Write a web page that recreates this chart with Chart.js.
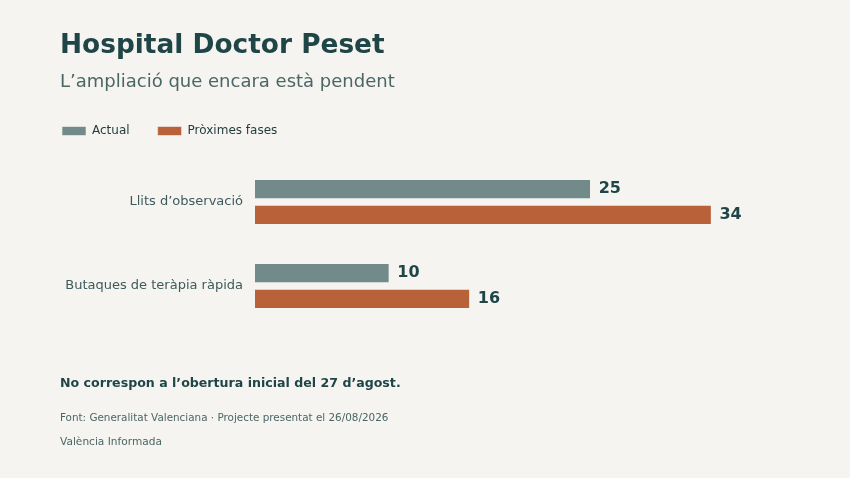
<!DOCTYPE html>
<html>
<head>
<meta charset="utf-8">
<script src="https://cdn.jsdelivr.net/npm/chart.js@4.4.1/dist/chart.umd.min.js"></script>
<style>
  html, body { margin: 0; padding: 0; background: #f5f4f0; }
  body { width: 850px; height: 478px; position: relative; overflow: hidden; font-family: "DejaVu Sans", sans-serif; }
  #wrap { position: absolute; left: 0; top: 0; width: 850px; height: 478px; }
  .t { position: absolute; left: 60px; white-space: nowrap; }
  #title { top: 28px; font-size: 26.4px; font-weight: bold; color: #1f4547; }
  #subtitle { top: 70px; font-size: 18px; color: #4b6666; }
  #note { top: 375px; font-size: 12.6px; font-weight: bold; color: #1f4547; }
  #source { top: 411px; font-size: 10.4px; color: #4b6666; }
  #credit { top: 435px; font-size: 10.6px; color: #4b6666; }
</style>
</head>
<body>
<div id="wrap"><canvas id="c" width="850" height="478"></canvas></div>
<div class="t" id="title">Hospital Doctor Peset</div>
<div class="t" id="subtitle">L’ampliació que encara està pendent</div>
<div class="t" id="note">No correspon a l’obertura inicial del 27 d’agost.</div>
<div class="t" id="source">Font: Generalitat Valenciana · Projecte presentat el 26/08/2026</div>
<div class="t" id="credit">València Informada</div>
<script>
const categories = ["Llits d’observació", "Butaques de teràpia ràpida"];
const actualValues = [25, 10];
const nextValues = [34, 16];
const seriesNames = ["Actual", "Pròximes fases"];

const valueLabels = {
  id: 'valueLabels',
  afterDatasetsDraw(chart) {
    const ctx = chart.ctx;
    ctx.save();
    ctx.font = 'bold 16px "DejaVu Sans"';
    ctx.fillStyle = '#1f4547';
    ctx.textBaseline = 'middle';
    ctx.textAlign = 'left';
    chart.data.datasets.forEach((ds, i) => {
      chart.getDatasetMeta(i).data.forEach((el, j) => {
        ctx.fillText(String(ds.data[j]), el.x + 8, el.y);
      });
    });
    ctx.restore();
  }
};

const legendSpacing = {
  id: 'legendSpacing',
  beforeInit(chart) {
    const origFit = chart.legend.fit;
    chart.legend.fit = function () {
      origFit.bind(chart.legend)();
      this.height += 13;
    };
  }
};

new Chart(document.getElementById('c'), {
  type: 'bar',
  data: {
    labels: categories,
    datasets: [
      { label: seriesNames[0], data: actualValues, backgroundColor: '#728a8a', borderColor: '#f5f4f0', borderWidth: 0.6 },
      { label: seriesNames[1], data: nextValues, backgroundColor: '#b96239', borderColor: '#f5f4f0', borderWidth: 0.6 }
    ]
  },
  options: {
    indexAxis: 'y',
    responsive: false,
    animation: false,
    devicePixelRatio: 1,
    layout: { padding: { left: 34, right: 58, top: 97, bottom: 150 } },
    categoryPercentage: 0.61,
    barPercentage: 0.76,
    scales: {
      x: { display: false, min: 0, max: 40 },
      y: {
        grid: { display: false, drawTicks: false },
        border: { display: false },
        ticks: { color: '#3d5b5c', font: { family: 'DejaVu Sans', size: 13 }, padding: 12 },
        afterFit(scale) { scale.width = 221; }
      }
    },
    plugins: {
      legend: {
        position: 'top',
        align: 'start',
        labels: {
          boxWidth: 24, boxHeight: 9, padding: 28,
          color: '#1f3a3b',
          font: { family: 'DejaVu Sans', size: 12 }
        }
      },
      tooltip: { enabled: false }
    }
  },
  plugins: [valueLabels, legendSpacing]
});
</script>
</body>
</html>
